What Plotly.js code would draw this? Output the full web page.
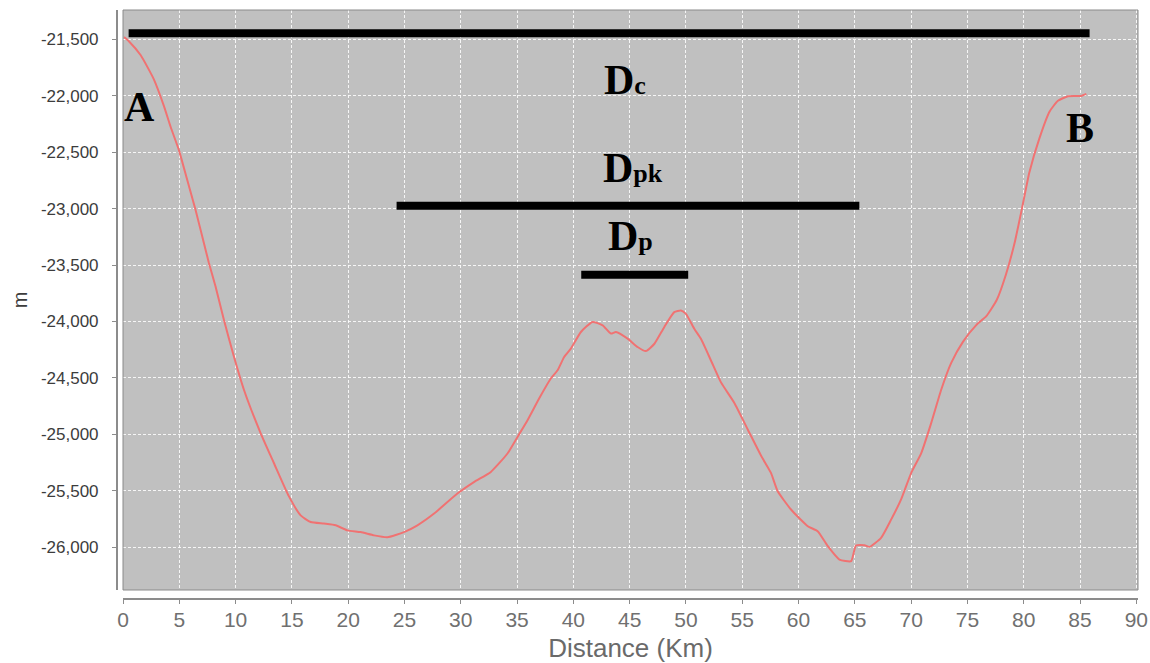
<!DOCTYPE html>
<html>
<head>
<meta charset="utf-8">
<script src="https://cdn.plot.ly/plotly-3.0.1.min.js"></script>
<style>html,body{margin:0;padding:0;background:#fff;}#chart{width:1150px;height:663px;}</style>
</head>
<body>
<div id="chart"></div>
<script>
// Profile A-B: distance (km) and depth (m)
const distKm = [0.1, 0.5, 1.56, 2.74, 3.63, 4.22, 4.96, 5.7, 6.44, 7.04, 7.63, 8.22, 8.96, 9.85, 10.74, 12.22, 13.4, 14.74, 15.78, 16.67, 17.85, 18.89, 19.93, 21.1, 22.3, 23.48, 24.96, 26.15, 27.63, 29.7, 31.2, 32.67, 34.15, 35.04, 35.93, 36.96, 38, 38.6, 39.18, 39.78, 40.67, 41.7, 42.6, 43.33, 43.78, 44.82, 45.7, 46.44, 47.2, 48.07, 48.96, 49.56, 50, 50.74, 51.33, 52.22, 53.1, 54.3, 55.5, 56.7, 57.55, 58.15, 59.33, 60.82, 61.7, 62.6, 63.63, 64.67, 65.1, 65.85, 66.3, 67.33, 68.22, 69.1, 70, 70.9, 71.78, 72.67, 73.55, 74.6, 75.8, 76.7, 77.6, 78.4, 79.2, 79.8, 80.5, 81.4, 82.3, 83.04, 83.93, 85.1, 85.56];
const depthM = [-21480, -21515, -21640, -21855, -22090, -22273, -22480, -22745, -23011, -23247, -23482, -23690, -23985, -24310, -24604, -24988, -25253, -25549, -25717, -25776, -25790, -25805, -25850, -25865, -25894, -25910, -25865, -25805, -25701, -25524, -25420, -25332, -25169, -25022, -24874, -24682, -24505, -24432, -24314, -24240, -24093, -24004, -24034, -24107, -24093, -24152, -24226, -24262, -24197, -24050, -23917, -23902, -23932, -24065, -24153, -24345, -24537, -24721, -24958, -25194, -25341, -25504, -25665, -25813, -25857, -25990, -26108, -26123, -25984, -25981, -25996, -25916, -25755, -25578, -25342, -25165, -24900, -24604, -24368, -24180, -24030, -23950, -23810, -23590, -23300, -23020, -22680, -22376, -22140, -22045, -22005, -22002, -21984];

// Marked distances (bars)
const dcX = [0.5, 85.85];   const dcY = [-21447, -21447];
const dpkX = [24.3, 65.4];  const dpkY = [-22975, -22975];
const dpX = [40.7, 50.2];   const dpY = [-23586, -23586];

// Tick labels
const xTickVals = [0, 5, 10, 15, 20, 25, 30, 35, 40, 45, 50, 55, 60, 65, 70, 75, 80, 85, 90];
const yTickVals = [-21500, -22000, -22500, -23000, -23500, -24000, -24500, -25000, -25500, -26000];
const yTickText = ['-21,500', '-22,000', '-22,500', '-23,000', '-23,500', '-24,000', '-24,500', '-25,000', '-25,500', '-26,000'];

// Label texts
const labelTexts = ['A', 'B', 'D<span style="font-size:26px">c</span>', 'D<span style="font-size:26px">pk</span>', 'D<span style="font-size:26px">p</span>'];
const labelX = [1.48, 84.97, 44.6, 45.33, 45.1];
const labelY = [-22099, -22286, -21860, -22642, -23241];

const barStyle = {color: '#000000', width: 8};
const traces = [
  {x: distKm, y: depthM, type: 'scatter', mode: 'lines', line: {color: '#f07272', width: 2, shape: 'spline', smoothing: 0.5}, hoverinfo: 'x+y', showlegend: false},
  {x: dcX, y: dcY, type: 'scatter', mode: 'lines', line: barStyle, showlegend: false, name: 'Dc'},
  {x: dpkX, y: dpkY, type: 'scatter', mode: 'lines', line: barStyle, showlegend: false, name: 'Dpk'},
  {x: dpX, y: dpY, type: 'scatter', mode: 'lines', line: barStyle, showlegend: false, name: 'Dp'}
];

const annotations = labelTexts.map((t, i) => ({
  x: labelX[i], y: labelY[i], xref: 'x', yref: 'y', text: t, showarrow: false,
  xanchor: 'center', yanchor: 'middle',
  font: {family: 'Liberation Serif, Times New Roman, serif', size: 42, color: '#000000', weight: 'bold'}
}));

const layout = {
  width: 1150, height: 663,
  margin: {l: 116, r: 12, t: 10, b: 65},
  paper_bgcolor: '#ffffff',
  plot_bgcolor: '#c0c0c0',
  showlegend: false,
  xaxis: {
    domain: [0.00685, 1], anchor: 'free', position: 0,
    range: [0, 90.15], tickvals: xTickVals,
    showline: true, linecolor: '#8c8c8c', linewidth: 1.5,
    ticks: 'outside', ticklen: 4, tickcolor: '#8c8c8c',
    tickfont: {family: 'Liberation Sans, Arial, sans-serif', size: 21, color: '#707070'},
    ticklabelstandoff: -2,
    showgrid: true, gridcolor: 'rgba(255,255,255,0.85)', griddash: '3px,2px', gridwidth: 1,
    zeroline: false,
    title: {text: 'Distance (Km)', font: {family: 'Liberation Sans, Arial, sans-serif', size: 26, color: '#6a6a6a'}, standoff: 10}
  },
  yaxis: {
    domain: [0.0136, 1], anchor: 'free', position: 0,
    range: [-26378, -21241], tickvals: yTickVals, ticktext: yTickText,
    showline: true, linecolor: '#8c8c8c', linewidth: 1.5,
    ticks: 'outside', ticklen: 4, tickcolor: '#8c8c8c',
    tickfont: {family: 'Liberation Sans, Arial, sans-serif', size: 17, color: '#3c3c3c'},
    ticklabelstandoff: 10,
    showgrid: true, gridcolor: 'rgba(255,255,255,0.85)', griddash: '3px,2px', gridwidth: 1,
    zeroline: false,
    title: {text: 'm', font: {family: 'Liberation Sans, Arial, sans-serif', size: 20, color: '#3c3c3c'}, standoff: 6}
  },
  shapes: [
    {type: 'rect', xref: 'x domain', yref: 'y domain', x0: 0, x1: 1, y0: 0, y1: 1, line: {color: '#8a8a8a', width: 1}, fillcolor: 'rgba(0,0,0,0)', layer: 'above'}
  ],
  annotations: annotations
};

Plotly.newPlot('chart', traces, layout, {displayModeBar: false, staticPlot: true});
</script>
</body>
</html>
